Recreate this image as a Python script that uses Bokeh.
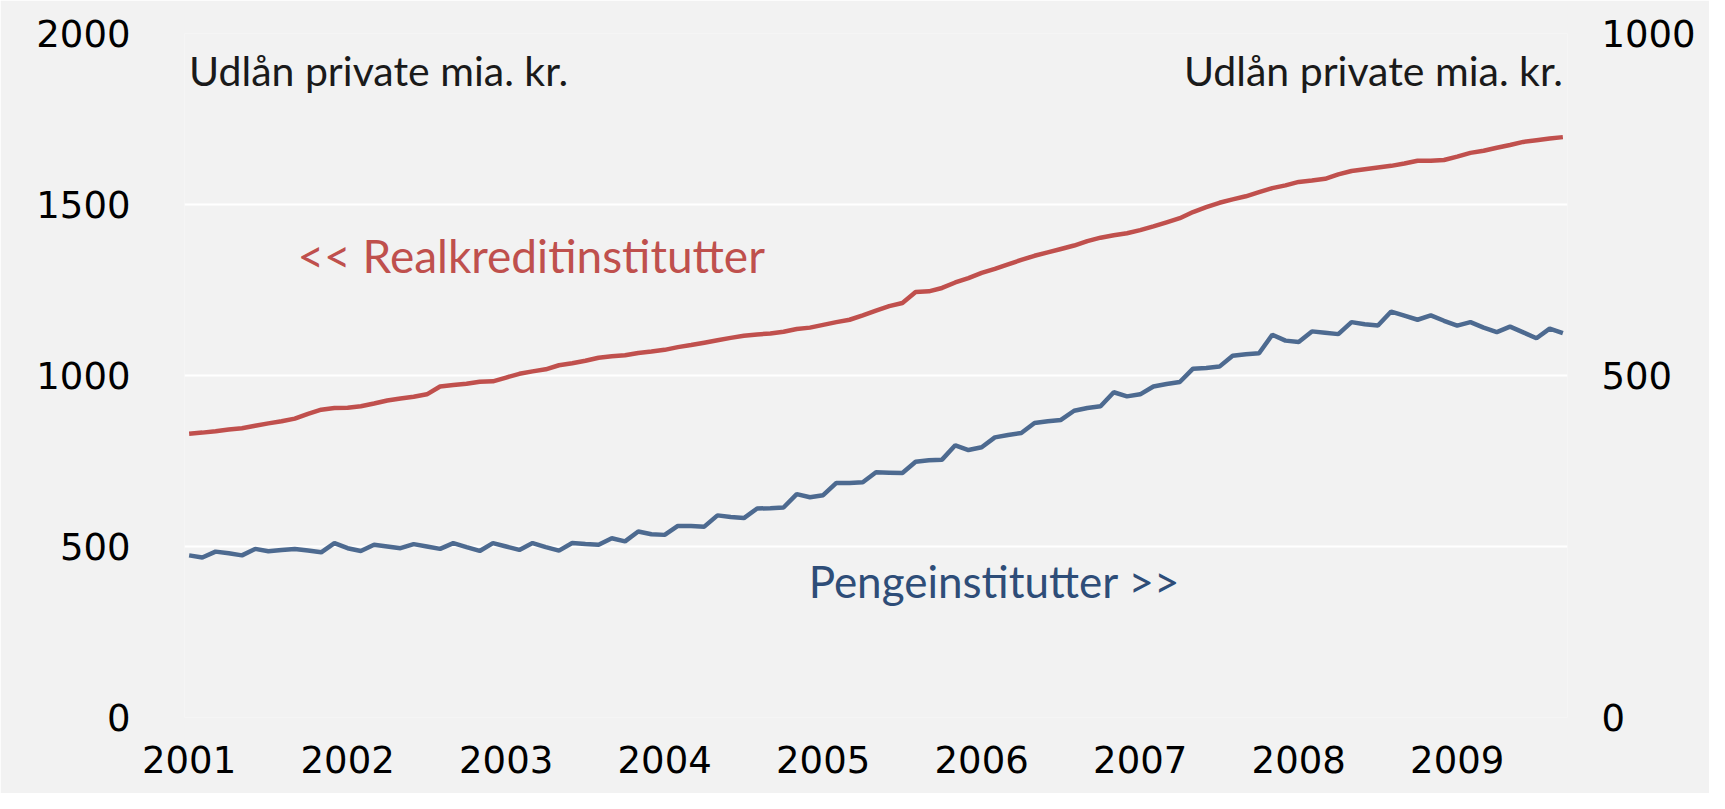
from bokeh.plotting import figure
from bokeh.models import Range1d, LinearAxis, FixedTicker, Label, ColumnDataSource
from bokeh.embed import file_html
from bokeh.resources import INLINE

# ---- data (monthly, Jan 2001 .. Sep 2009) ----
years = ["2001", "2002", "2003", "2004", "2005", "2006", "2007", "2008", "2009"]

# Realkreditinstitutter, left axis (mia. kr.)
realkredit = [
    830, 833, 837, 842, 846, 853, 860, 866, 874, 888, 900, 905,
    906, 910, 918, 927, 933, 938, 945, 968, 972, 976, 982, 983,
    994, 1005, 1012, 1018, 1030, 1036, 1043, 1052, 1056, 1059, 1066, 1070,
    1075, 1083, 1089, 1096, 1103, 1110, 1116, 1120, 1123, 1128, 1136, 1140,
    1148, 1156, 1163, 1176, 1190, 1203, 1212, 1244, 1246, 1256, 1272, 1285,
    1300, 1312, 1325, 1338, 1350, 1360, 1370, 1380, 1393, 1403, 1410, 1416,
    1425, 1436, 1448, 1460, 1478, 1492, 1505, 1515, 1524, 1536, 1548, 1556,
    1566, 1570, 1575, 1588, 1598, 1603, 1608, 1613, 1620, 1628, 1628, 1630,
    1640, 1651, 1657, 1666, 1674, 1683, 1688, 1693, 1697,
]

# Pengeinstitutter, right axis (mia. kr.)
penge = [
    237, 234, 242.5, 240, 237, 246.5, 243, 245, 246.5, 244, 241.5, 255,
    247.5, 243.5, 252.5, 250, 247.5, 253.5, 250, 246.5, 255, 249, 243.5, 255,
    250, 245, 255, 249, 244, 255, 253.5, 252.5, 262, 257.5, 272, 268,
    267, 280, 280, 279, 295.5, 293, 291.5, 305.5, 306, 307, 326.5, 322,
    325, 343, 343, 344, 358.5, 358, 357.5, 374, 376, 377, 398, 391,
    395, 409.5, 413, 416, 430.5, 433, 435, 448.5, 452.5, 455, 475.5, 469.5,
    472.5, 484, 487.5, 490.5, 510, 511, 513, 529, 531, 532.5, 559.5, 551,
    549, 564.5, 562.5, 560.5, 578, 575, 573, 593.5, 587.5, 581.5, 588, 580,
    573, 578, 570, 563.5, 571.5, 563, 554.5, 568.5, 562,
]

left_ticks = [0, 500, 1000, 1500, 2000]
right_ticks = [0, 500, 1000]

months = list(range(len(realkredit)))
year_ticks = [12 * i for i in range(len(years))]

src = ColumnDataSource(data=dict(m=months, rk=realkredit, pi=penge))

BG = "#f2f2f2"
TICK_FONT = "DejaVu Sans"
TXT_FONT = "Lato"

p = figure(
    width=1709, height=793,
    output_backend="svg", toolbar_location=None,
    x_range=Range1d(-0.35, len(months) - 1 + 0.35),
    y_range=Range1d(0, 2000),
    background_fill_color=BG, border_fill_color=BG,
    min_border_left=184, min_border_right=142,
    min_border_top=33, min_border_bottom=76,
)
p.outline_line_color = None
p.extra_y_ranges = {"right": Range1d(0, 1000)}

# axes
p.xaxis.ticker = FixedTicker(ticks=year_ticks)
p.xaxis.major_label_overrides = {t: y for t, y in zip(year_ticks, years)}
p.yaxis.ticker = FixedTicker(ticks=left_ticks)

raxis = LinearAxis(y_range_name="right", ticker=FixedTicker(ticks=right_ticks))
p.add_layout(raxis, "right")

for ax in [p.xaxis[0], p.yaxis[0], raxis]:
    ax.axis_line_color = None
    ax.major_tick_line_color = None
    ax.minor_tick_line_color = None
    ax.major_label_text_font = TICK_FONT
    ax.major_label_text_font_size = "37px"
    ax.major_label_text_color = "#000000"

p.yaxis[0].major_label_standoff = 48
raxis.major_label_standoff = 28
p.xaxis[0].major_label_standoff = 22

p.xgrid.grid_line_color = None
p.ygrid.grid_line_color = "#ffffff"
p.ygrid.grid_line_width = 2

# lines
p.line("m", "rk", source=src, line_color="#c0504d", line_width=4.5)
p.line("m", "pi", source=src, line_color="#4d6a90", line_width=4.5, y_range_name="right")

# annotations
last = len(months) - 1
p.add_layout(Label(x=0, y=1893, text="Udlån private mia. kr.", text_font=TXT_FONT,
                   text_font_size="41px", text_color="#1a1a1a", text_baseline="middle",
                   text_align="left"))
p.add_layout(Label(x=last, y=1893, text="Udlån private mia. kr.", text_font=TXT_FONT,
                   text_font_size="41px", text_color="#1a1a1a", text_baseline="middle",
                   text_align="right"))
p.add_layout(Label(x=8.2, y=1351, text="<< Realkreditinstitutter", text_font=TXT_FONT,
                   text_font_size="46px", text_color="#bf504d", text_baseline="middle",
                   text_align="left"))
p.add_layout(Label(x=46.9, y=400, text="Pengeinstitutter >>", text_font=TXT_FONT,
                   text_font_size="44px", text_color="#2e4d78", text_baseline="middle",
                   text_align="left"))

open("out.html", "w").write(file_html(p, INLINE))
